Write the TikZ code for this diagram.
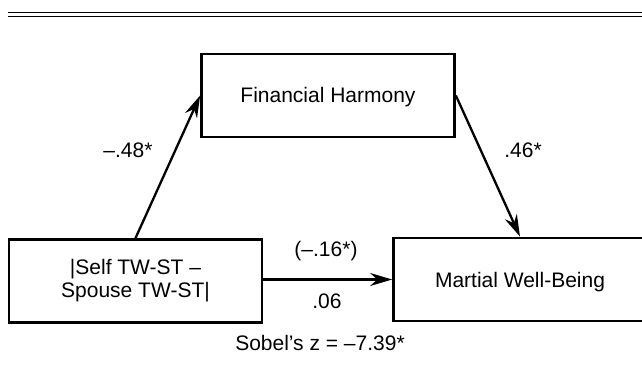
\documentclass[tikz,border=0pt]{standalone}
\usepackage{fontspec}
\setmainfont{Liberation Sans}
\usetikzlibrary{arrows.meta}
\begin{document}
\begin{tikzpicture}[x=1pt,y=1pt,
  txt/.style={font=\fontsize{21}{23}\selectfont},
  box/.style={draw, line width=2.7pt, minimum width=253pt, minimum height=83pt,
    inner sep=0pt, txt},
  onel/.style={text height=15pt, text depth=0pt},
  lab/.style={txt, anchor=base, inner sep=0pt},
  conn/.style={line width=2.3pt, -{Stealth[length=22pt,width=13pt]}},
  rule/.style={line width=1.9pt}]
\useasboundingbox (0,0) rectangle (642,-366);
\clip (0,0) rectangle (642,-366);
% double rule at top
\coordinate (r1a) at (8,-12.5);
\coordinate (r1b) at (642,-12.5);
\coordinate (r2a) at (8,-16.5);
\coordinate (r2b) at (642,-16.5);
\draw[rule] (r1a) -- (r1b);
\draw[rule] (r2a) -- (r2b);
% boxes
\node[box, onel] (fh) at (328,-95.5) {Financial Harmony};
\node[box, align=center] (ts) at (135.5,-281) {|Self TW-ST –\\Spouse TW-ST|};
\node[box, onel] (mw) at (520,-279.5) {Martial Well-Being};
% connectors
\draw[conn] (ts.north) -- (fh.west);
\draw[conn] (fh.east) -- (mw.north);
\draw[conn] (ts.east |- mw.west) -- (mw.west);
% labels
\node[lab] (l48) at (128,-158) {–.48*};
\node[lab] (l46) at (523,-158) {.46*};
\node[lab] (l16) at (326,-256) {(–.16*)};
\node[lab] (l06) at (327,-308) {.06};
\node[lab] (sob) at (320,-350) {Sobel’s z = –7.39*};
\end{tikzpicture}
\end{document}
